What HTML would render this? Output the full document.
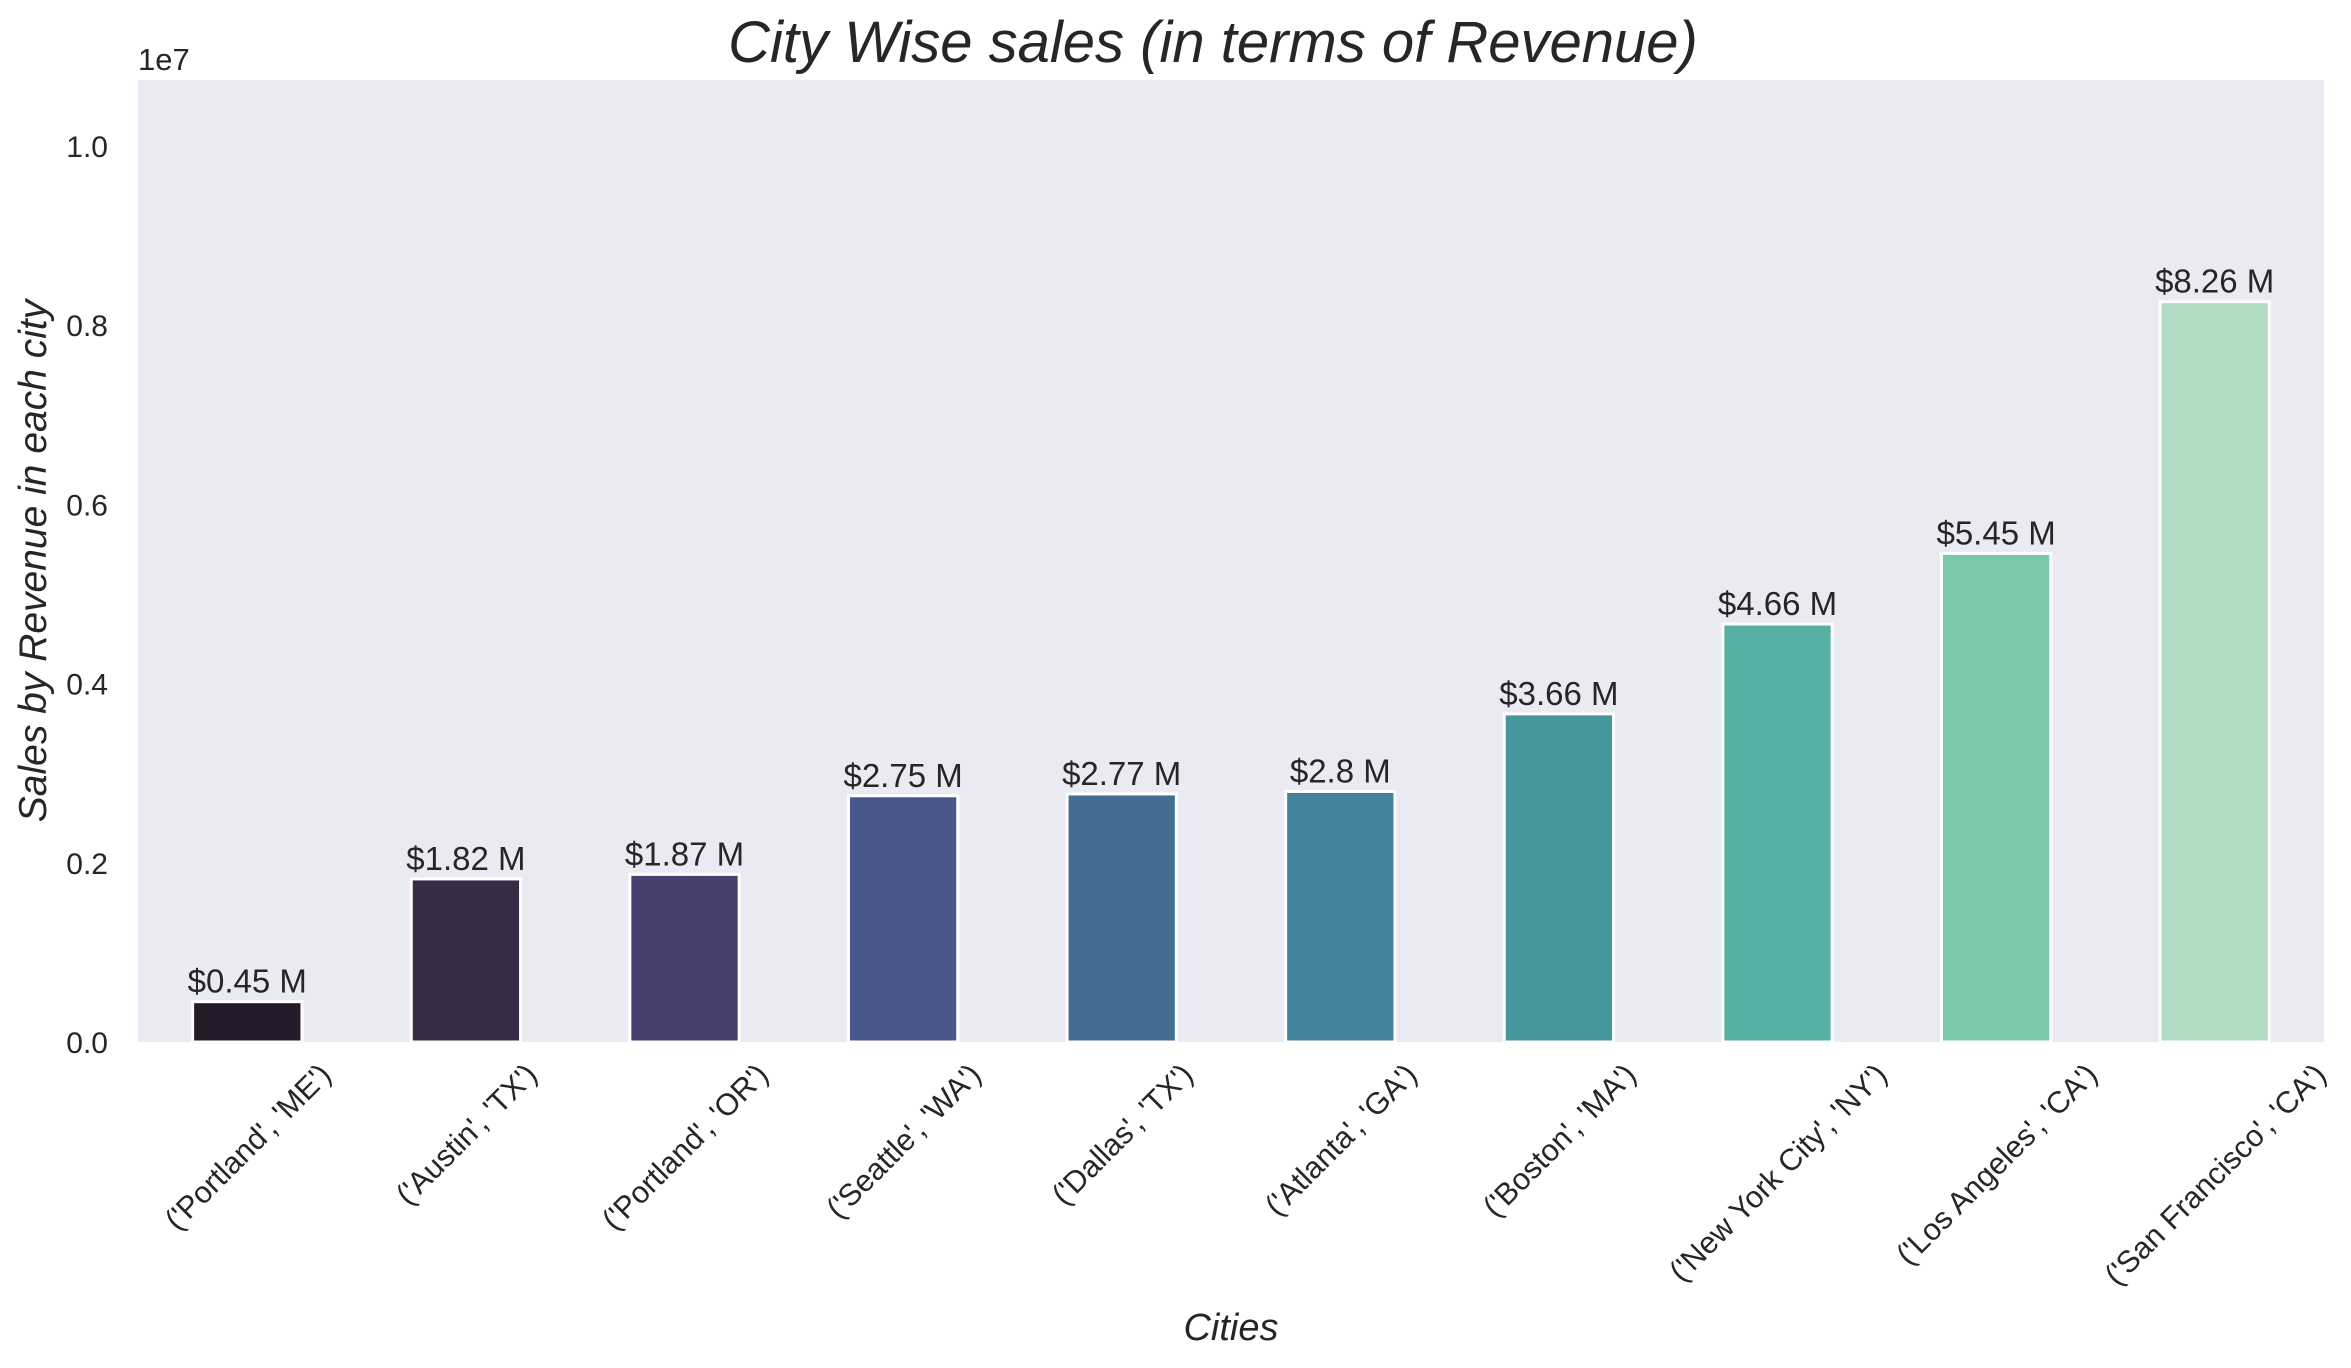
<!DOCTYPE html>
<html><head><meta charset="utf-8"><style>
body{margin:0;background:#fff;}
svg{display:block;font-family:"Liberation Sans","DejaVu Sans",sans-serif;}
</style></head><body>
<svg id="chart" width="2351" height="1368" viewBox="0 0 2351 1368" xmlns="http://www.w3.org/2000/svg">
<rect x="138" y="80" width="2186" height="962" fill="#eaeaf2"/>
<text x="1213" y="62" text-anchor="middle" font-size="58" font-style="italic" fill="#262626">City Wise sales (in terms of Revenue)</text>
<text x="138" y="70" font-size="31" fill="#262626">1e7</text>
<text transform="translate(46,561) rotate(-90)" text-anchor="middle" font-size="39" font-style="italic" fill="#262626">Sales by Revenue in each city</text>
<text x="1231" y="1340" text-anchor="middle" font-size="38" font-style="italic" fill="#262626">Cities</text>
<g id="yt"></g><g id="bars"></g><g id="xt"></g>
</svg>
<script>
const categories = ["('Portland', 'ME')","('Austin', 'TX')","('Portland', 'OR')","('Seattle', 'WA')","('Dallas', 'TX')","('Atlanta', 'GA')","('Boston', 'MA')","('New York City', 'NY')","('Los Angeles', 'CA')","('San Francisco', 'CA')"];
const revenue = [449758, 1819582, 1870732, 2747755, 2767975, 2795499, 3661642, 4664317, 5452571, 8262204];
const valueLabels = ["$0.45 M","$1.82 M","$1.87 M","$2.75 M","$2.77 M","$2.8 M","$3.66 M","$4.66 M","$5.45 M","$8.26 M"];
const yTicks = [0, 0.2e7, 0.4e7, 0.6e7, 0.8e7, 1.0e7];
const yTickLabels = ["0.0","0.2","0.4","0.6","0.8","1.0"];
const colors = ["#241a2a","#372b45","#463e6c","#4a578a","#436e91","#42829b","#46979d","#55afa3","#7ac8aa","#b2dcc1"];

const NS="http://www.w3.org/2000/svg";
const L=138,R=2324,T=80,B=1042,yMax=1.0735e7;
const step=(R-L)/categories.length;
const x=i=>L+step*(i+0.5);
const y=v=>B-(v/yMax)*(B-T);
function mk(tag,attrs,parent){const e=document.createElementNS(NS,tag);for(const k in attrs)e.setAttribute(k,attrs[k]);parent.appendChild(e);return e;}
const yt=document.getElementById('yt'),bars=document.getElementById('bars'),xt=document.getElementById('xt');
yTicks.forEach((t,i)=>{
  const e=mk('text',{x:L-30,y:y(t)+11,'text-anchor':'end','font-size':30,fill:'#262626'},yt);
  
  
  e.textContent=yTickLabels[i];
});
const bw=step*0.5;
revenue.forEach((v,i)=>{
  const r=mk('rect',{x:x(i)-bw/2,y:y(v),width:bw,height:B-y(v),fill:colors[i],stroke:'#fff','stroke-width':3},bars);
  
  
  const t=mk('text',{x:x(i),y:y(v)-9,'text-anchor':'middle','font-size':33,fill:'#262626'},bars);
  
  
  t.textContent=valueLabels[i];
});
categories.forEach((c,i)=>{
  const t=mk('text',{'text-anchor':'middle','font-size':30.5,fill:'#262626'},xt);
  
  
  t.textContent=c;
  const w=t.getComputedTextLength();
  const h=(w+30)*Math.SQRT1_2;
  const cy=B+16+h/2;
  t.setAttribute('transform','translate('+x(i)+','+cy+') rotate(-45)');
  t.setAttribute('y',11);
});
</script>
</body></html>
